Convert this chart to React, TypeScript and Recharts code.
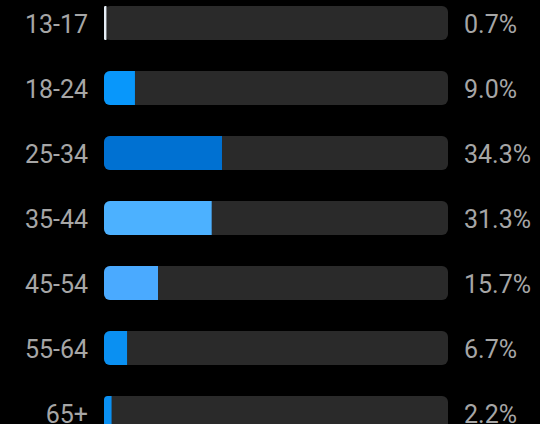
import { Bar, BarChart, Cell, XAxis, YAxis } from "recharts";

const ageGroups = ["13-17", "18-24", "25-34", "35-44", "45-54", "55-64", "65+"];
const shares = [0.7, 9.0, 34.3, 31.3, 15.7, 6.7, 2.2];
const barColors = [
  "#e6eef6",
  "#0897fb",
  "#0071d2",
  "#4cb1ff",
  "#4aaaff",
  "#0a90f2",
  "#0a90f2",
];

const data = ageGroups.map((age, i) => ({
  age,
  share: shares[i],
  shareLabel: shares[i].toFixed(1) + "%",
}));

// plain text ticks, nudged a little lower than the bar centre like the screenshot
const makeTick = (anchor: "start" | "end") => (props: any) => {
  const { x, y, payload } = props;
  return (
    <text
      x={x}
      y={y + 2}
      dy="0.355em"
      textAnchor={anchor}
      fill="#a6a6a6"
      fontSize={25}
      fontFamily="Roboto"
    >
      {payload.value}
    </text>
  );
};

const App = () => {
  return (
    <div
      style={{
        position: "fixed",
        top: 0,
        left: 0,
        width: 540,
        height: 424,
        overflow: "hidden",
        background: "#000",
      }}
    >
      <div style={{ position: "absolute", top: -10.5, left: 0 }}>
        <BarChart
          layout="vertical"
          width={540}
          height={455}
          data={data}
          margin={{ top: 0, right: 0, bottom: 0, left: 0 }}
          barCategoryGap={31}
        >
          <XAxis type="number" domain={[0, 100]} hide />
          <YAxis
            yAxisId="left"
            type="category"
            dataKey="age"
            width={104}
            axisLine={false}
            tickLine={false}
            tickSize={0}
            tickMargin={16}
            tick={makeTick("end")}
          />
          <YAxis
            yAxisId="right"
            orientation="right"
            type="category"
            dataKey="shareLabel"
            width={92}
            axisLine={false}
            tickLine={false}
            tickSize={0}
            tickMargin={16}
            tick={makeTick("start")}
          />
          <Bar
            yAxisId="left"
            dataKey="share"
            barSize={34}
            radius={[6, 0, 0, 6]}
            background={{ fill: "#2a2a2a", radius: 6 }}
            isAnimationActive={false}
          >
            {data.map((d, i) => (
              <Cell key={d.age} fill={barColors[i]} />
            ))}
          </Bar>
        </BarChart>
      </div>
    </div>
  );
};

export default App;
